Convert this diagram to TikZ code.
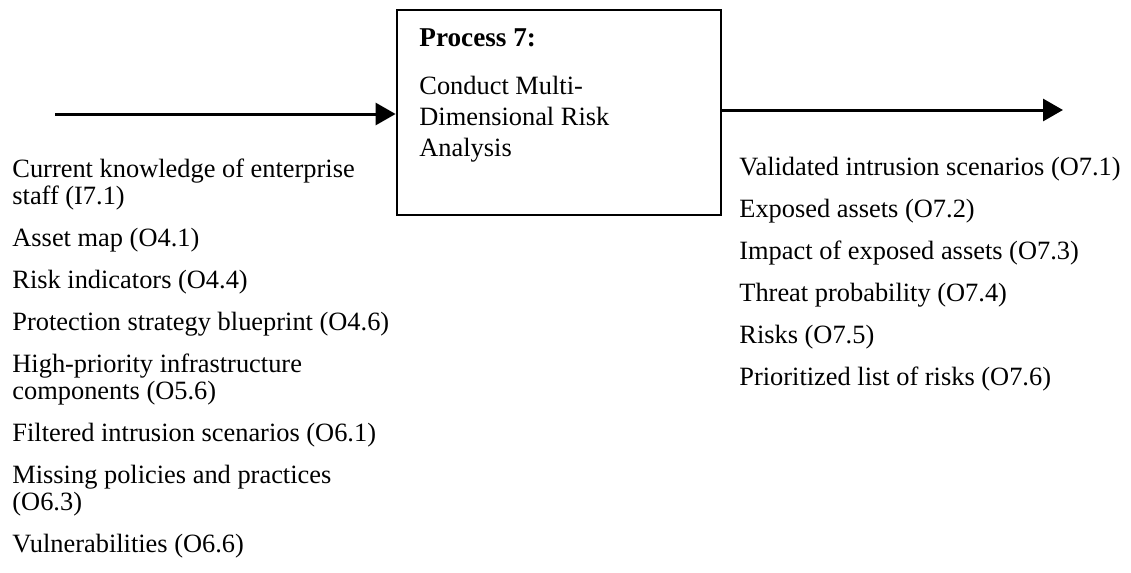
\documentclass[tikz,border=0pt]{standalone}
\usepackage{fontspec}
\setmainfont{Liberation Serif}
\usetikzlibrary{arrows.meta,positioning,calc}
\tikzset{
  proc/.style={draw, line width=1.4pt, minimum width=162pt, minimum height=102.5pt, inner sep=0pt},
  lst/.style={align=left, inner sep=0pt, font=\fontsize{13.2}{13.5}\selectfont},
  arr/.style={-{Triangle[length=10pt, width=11pt]}, line width=1.5pt},
}

\begin{document}
\begin{tikzpicture}[x=0.5pt, y=-0.5pt]
  \useasboundingbox (0,0) rectangle (1131,573);
  \node[proc] (box) at (559,112.5) {};
  \node[lst, anchor=base west] (title) at (419,156)
    {\textbf{\fontsize{13.6}{13.5}\selectfont Process 7:}\\[10.5pt]
     Conduct Multi-\\[2pt]
     Dimensional Risk\\[2pt]
     Analysis};
  \coordinate (in) at (55,114);
  \coordinate (out) at (1063,110);
  \draw[arr] (in) -- (in -| box.west);
  \draw[arr] (box.east |- out) -- (out);
  % inputs
  \node[lst, anchor=base west] (inputs) at (12,552)
    {Current knowledge of enterprise\\
     staff (I7.1)\\[7.5pt]
     Asset map (O4.1)\\[7.5pt]
     Risk indicators (O4.4)\\[7.5pt]
     Protection strategy blueprint (O4.6)\\[7.5pt]
     High-priority infrastructure\\
     components (O5.6)\\[7.5pt]
     Filtered intrusion scenarios (O6.1)\\[7.5pt]
     Missing policies and practices\\
     (O6.3)\\[7.5pt]
     Vulnerabilities (O6.6)};
  % outputs
  \node[lst, anchor=base west] (outputs) at (739,385)
    {Validated intrusion scenarios (O7.1)\\[7.5pt]
     Exposed assets (O7.2)\\[7.5pt]
     Impact of exposed assets (O7.3)\\[7.5pt]
     Threat probability (O7.4)\\[7.5pt]
     Risks (O7.5)\\[7.5pt]
     Prioritized list of risks (O7.6)};
\end{tikzpicture}
\end{document}
